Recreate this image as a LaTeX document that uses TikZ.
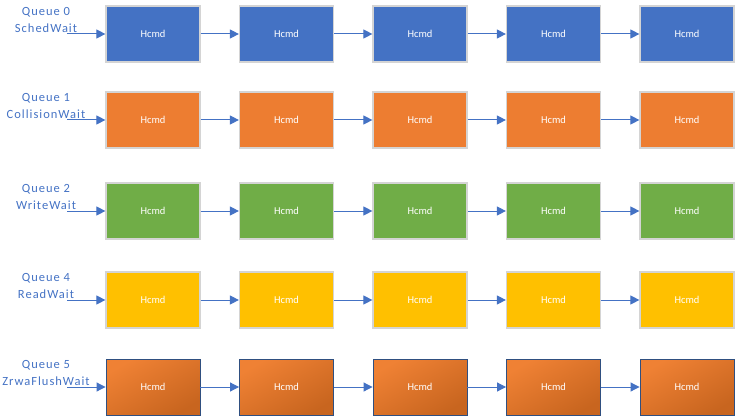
\documentclass[tikz,border=0pt]{standalone}
\usepackage{fontspec}
\setmainfont{Carlito}
\newfontfamily\qlabelfont[LetterSpace=8]{Carlito}
\usetikzlibrary{arrows.meta}
\definecolor{qblue}{HTML}{4472C4}
\definecolor{qorange}{HTML}{ED7D31}
\definecolor{qgreen}{HTML}{70AD47}
\definecolor{qyellow}{HTML}{FFC000}
\definecolor{qdark}{HTML}{C8651F}
\definecolor{qlight}{HTML}{EF8134}
\definecolor{qedge}{HTML}{D4D4D4}
\definecolor{qdedge}{HTML}{2F4F80}
\tikzset{
  hbox/.style={draw=qedge, line width=1.2pt, minimum width=94pt, minimum height=56pt,
    inner sep=0pt, text=white, font=\fontsize{10.5}{12}\selectfont},
  hboxshade/.style={draw=qdedge, line width=0.9pt, minimum width=94pt, minimum height=56pt,
    inner sep=0pt, text=white, font=\fontsize{10.5}{12}\selectfont,
    top color=qlight, bottom color=qdark, shading angle=30},
  qlabel/.style={align=center, text=qblue, inner sep=0pt,
    font=\qlabelfont\fontsize{12.5}{17}\selectfont},
  conn/.style={draw=qblue, line width=1pt, -{Triangle[length=9pt,width=9pt]}}
}
\begin{document}
\begin{tikzpicture}[x=1pt,y=-1pt]
\useasboundingbox (0,0) rectangle (736,417);
\foreach \r/\cy/\fillc/\st/\qa/\qb in {
  0/34/qblue/hbox/Queue 0/SchedWait,
  1/120/qorange/hbox/Queue 1/CollisionWait,
  2/211/qgreen/hbox/Queue 2/WriteWait,
  3/300/qyellow/hbox/Queue 4/ReadWait,
  4/387/qorange/hboxshade/Queue 5/ZrwaFlushWait}{
  \node[qlabel] (q\r) at (46,\cy-14) {\qa\\\qb};
  \coordinate (s\r) at (67,\cy);
  \foreach \c/\cx in {0/153,1/286.5,2/420,3/553.5,4/687}{
    \ifnum\r=4
      \node[hboxshade] (b\r\c) at (\cx,\cy) {Hcmd};
    \else
      \node[hbox, fill=\fillc] (b\r\c) at (\cx,\cy) {Hcmd};
    \fi
  }
  \draw[conn] (s\r) -- (b\r0.west);
  \draw[conn] (b\r0.east) -- (b\r1.west);
  \draw[conn] (b\r1.east) -- (b\r2.west);
  \draw[conn] (b\r2.east) -- (b\r3.west);
  \draw[conn] (b\r3.east) -- (b\r4.west);
}
\end{tikzpicture}
\end{document}
